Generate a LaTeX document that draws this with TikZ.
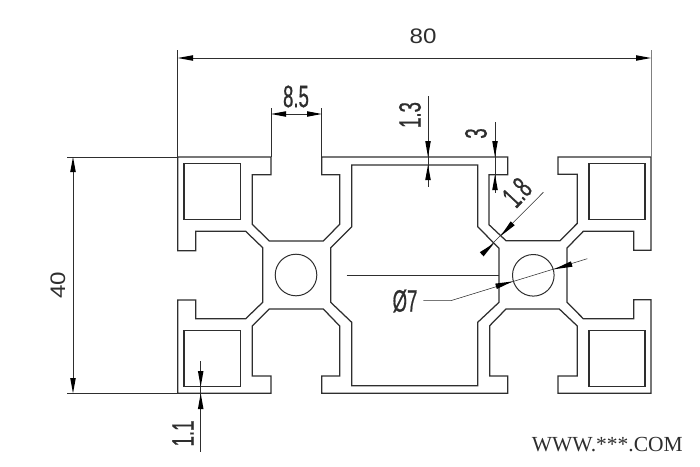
\documentclass[tikz,border=0pt]{standalone}
\usepackage{fontspec}
\setmainfont{Liberation Sans}
\newfontfamily\serifwm{Liberation Serif}
\newfontfamily\heavydim[FakeBold=0.8]{Liberation Sans}
\usetikzlibrary{calc}
\definecolor{ink}{HTML}{2E2E2E}
\newcommand{\narrowtxt}[1]{\scalebox{0.6}[1]{\heavydim\fontsize{31}{31}\selectfont #1}}
\newcommand{\widetxt}[1]{\scalebox{1.15}[1]{\fontsize{21}{21}\selectfont #1}}
% \tipat{base}{tip}: solid slender arrowhead
\newcommand{\tipat}[2]{\fill[black] (#2) -- ($(#1)!2.8pt!90:(#2)$) -- ($(#1)!2.8pt!-90:(#2)$) -- cycle;}
\tikzset{
  profile/.style={draw=ink,line width=1.25pt,line join=miter},
  dimline/.style={draw=ink,line width=0.55pt},
  dimtxt/.style={inner sep=0pt,text=ink}
}
\begin{document}
\begin{tikzpicture}[x=1pt,y=-1pt]
\useasboundingbox (0,0) rectangle (700,466);
% outer contour
\draw[profile] (177.7,157) -- (271,157) -- (271,174.7) -- (252.3,174.7) -- (252.3,224.3) -- (269.3,241) -- (323.3,241) -- (339.7,224.3) -- (339.7,174.7) -- (321.7,174.7) -- (321.7,157)
 -- (507.7,157) -- (507.7,174.7) -- (489,174.7) -- (489,224.7) -- (506,240.7) -- (560,240.7) -- (577.3,223.3) -- (577.3,174.3) -- (558,174.3) -- (558,157)
 -- (651,157) -- (651,250.3) -- (633.7,250.3) -- (633.7,231.3) -- (583.3,231.3) -- (567,248) -- (567,302.3) -- (583.3,318.7) -- (633.7,318.7) -- (633.7,299.7) -- (651,299.7)
 -- (651,393.3) -- (558,393.3) -- (558,376) -- (577.3,376) -- (577.3,326) -- (559.3,309) -- (506,309) -- (489.7,325.7) -- (489.7,376) -- (507.7,376) -- (507.7,393.3)
 -- (321.7,393.3) -- (321.7,376) -- (339.7,376) -- (339.7,326) -- (323.3,309) -- (269.3,309) -- (252.3,326) -- (252.3,376) -- (271,376) -- (271,393.3)
 -- (177.7,393.3) -- (177.7,300) -- (195.7,300) -- (195.7,318.7) -- (245.7,318.7) -- (262.7,302.3) -- (262.7,247.7) -- (245.7,231.3) -- (195.7,231.3) -- (195.7,250.7) -- (177.7,250.7) -- cycle;
% centre cavity
\draw[profile] (351.7,165) -- (477.7,165) -- (477.7,226.7) -- (499,248.3) -- (499,302.3) -- (477.7,322.3) -- (477.7,385.7) -- (351.7,385.7) -- (351.7,322.3) -- (330.7,302.3) -- (330.7,247.7) -- (351.7,226.7) -- cycle;
% corner cavities
\draw[profile] (184,163.7) rectangle (240.3,219.5);
\draw[profile] (184,330.7) rectangle (240.3,386.7);
\draw[profile] (589,163.7) rectangle (645,219.7);
\draw[profile] (589,330.7) rectangle (645,386.7);
% holes
\draw[profile,line width=1pt] (296,275) circle (20.8);
\draw[profile,line width=1pt] (533.3,275.3) circle (20.8);
% 80
\draw[dimline] (177.7,50) -- (177.7,157);
\draw[dimline,draw=gray] (651,50) -- (651,157);
\draw[dimline] (193,58) -- (636,58);
\tipat{193,58}{177.7,58}
\tipat{636,58}{651,58}
\node[dimtxt] (t80) at (423,36.5) {\widetxt{80}};
% 8.5
\draw[dimline] (271,108) -- (271,157);
\draw[dimline] (321.7,108) -- (321.7,157);
\draw[dimline] (286,114) -- (307,114);
\tipat{286,114}{271,114}
\tipat{307,114}{321.7,114}
\node[dimtxt] (t85) at (296,96.5) {\narrowtxt{8.5}};
% 40
\draw[dimline] (67,157) -- (177.7,157);
\draw[dimline] (67,393.3) -- (177.7,393.3);
\draw[dimline] (73,172) -- (73,378);
\tipat{73,172}{73,157}
\tipat{73,378}{73,393.3}
\node[dimtxt,rotate=90] (t40) at (58,285) {\widetxt{40}};
% 1.3
\draw[dimline] (428,96) -- (428,186.7);
\tipat{428,141}{428,157}
\tipat{428,180}{428,165}
\node[dimtxt,rotate=90] (t13) at (410,115) {\narrowtxt{1.3}};
% 3
\draw[dimline] (495,122.3) -- (495,192.7);
\tipat{495,141}{495,157}
\tipat{495,190}{495,174.7}
\node[dimtxt,rotate=90] (t3) at (476,133.5) {\narrowtxt{3}};
% 1.8
\draw[dimline] (543.3,192.3) -- (481.7,254.3);
\tipat{512.7,223.3}{500.7,236}
\tipat{481.7,254.3}{494,243.3}
\node[dimtxt,rotate=47] (t18) at (517,192.5) {\narrowtxt{1.8}};
% 7 dia
\draw[dimline,line width=1pt] (346.7,275) -- (499,275);
\draw[dimline] (423.3,300.7) -- (450.7,300.7) -- (587.3,258.7);
\tipat{496,286.3}{512.7,281.4}
\tipat{571.7,264}{554,269.3}
\node[dimtxt] (t7) at (405,301) {\narrowtxt{Ø7}};
% 1.1
\draw[dimline] (200.7,361) -- (200.7,451.7);
\tipat{200.7,371}{200.7,386.7}
\tipat{200.7,409}{200.7,393.3}
\node[dimtxt,rotate=90] (t11) at (183,433.5) {\narrowtxt{1.1}};
% watermark
\node[dimtxt,font=\serifwm\fontsize{21.5}{21.5}\selectfont] (wm) at (607.3,445) {WWW.***.COM};
\end{tikzpicture}
\end{document}
